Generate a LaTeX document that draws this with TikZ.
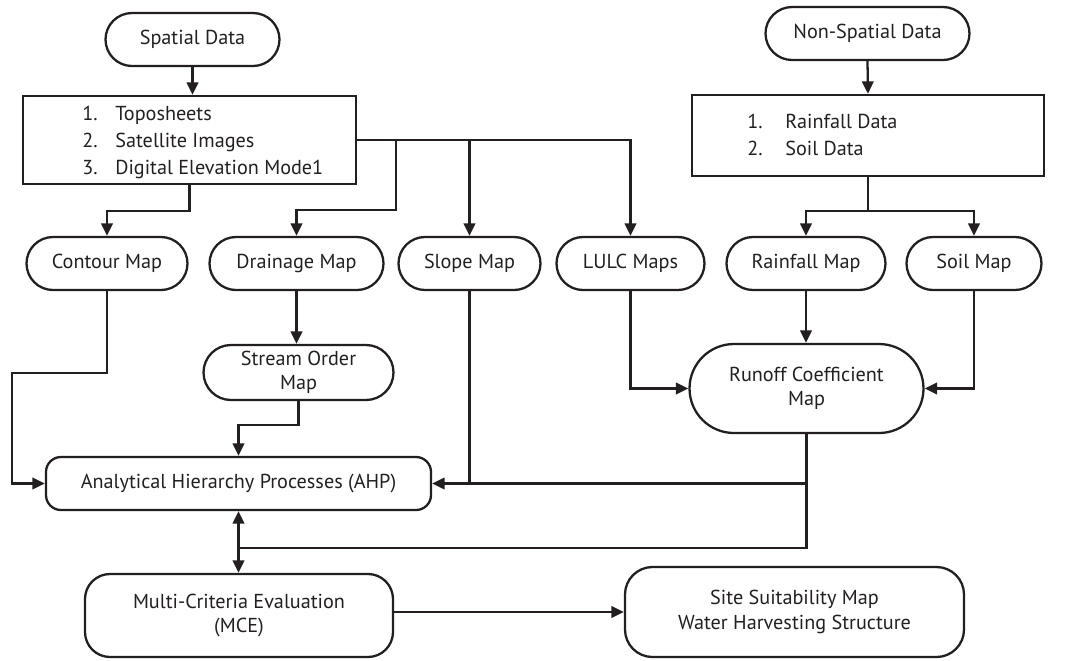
\documentclass[tikz,border=0pt]{standalone}
\usepackage{fontspec}
\setmainfont{PT Sans}
\usepackage{tikz}
\usetikzlibrary{positioning,
                shapes.misc,
                arrows.meta}
\usepackage{xcolor}
\definecolor{inkgray}{HTML}{231F20}

\begin{document}
\begin{tikzpicture}[x=0.2mm,y=-0.2mm]

%--------------------------------------------------
% STYLES
%--------------------------------------------------

\tikzset{
stadium/.style={
rounded rectangle,
draw=inkgray,
line width=1.3pt,
minimum height=1.06cm,
inner sep=2pt,
align=center,
text=inkgray,
font=\fontsize{11.5}{14}\selectfont
},
listbox/.style={
draw=inkgray,
line width=1.3pt,
inner sep=0pt
},
listtext/.style={
anchor=west,
inner sep=0pt,
text=inkgray,
font=\fontsize{11.5}{14.2}\selectfont
},
roundbox/.style={
draw=inkgray,
line width=1.3pt,
align=center,
text=inkgray,
font=\fontsize{11.5}{14}\selectfont
},
flow/.style={
draw=inkgray,
line width=1.3pt,
-{Triangle[length=2.5mm,width=2.3mm]}
},
link/.style={
draw=inkgray,
line width=1.3pt
}
}

\useasboundingbox (0,0) rectangle (1065,660);

%--------------------------------------------------
% DATA SOURCES
%--------------------------------------------------

\node[stadium,minimum width=3.62cm] (spatial)
at (192.5,39.5)
{Spatial Data};

\node[stadium,minimum width=4.22cm] (nonspatial)
at (867.5,33.5)
{Non-Spatial Data};

\node[listbox,minimum width=6.66cm,minimum height=1.76cm] (sources)
at (189.5,140)
{};

\node[listtext] (sourcestext)
at (82,142)
{\def\arraystretch{1.08}%
\begin{tabular}{@{}p{6.6mm}@{}l@{}}
1. & Toposheets\\
2. & Satellite Images\\
3. & Digital Elevation Mode1
\end{tabular}};

\node[listtext] (attributestext)
at (747,137)
{\def\arraystretch{1.08}%
\begin{tabular}{@{}p{7.6mm}@{}l@{}}
1. & Rainfall Data\\
2. & Soil Data
\end{tabular}};

\node[listbox,minimum width=7.04cm,minimum height=1.62cm] (attributes)
at (868,135.5)
{};

%--------------------------------------------------
% THEMATIC MAPS
%--------------------------------------------------

\node[stadium,minimum width=3.36cm] (contour)
at (107,263.5)
{Contour Map};

\node[stadium,minimum width=3.62cm] (drainage)
at (296.5,263.5)
{Drainage Map};

\node[stadium,minimum width=2.98cm] (slope)
at (469.5,263.5)
{Slope Map};

\node[stadium,minimum width=3.1cm] (lulc)
at (630.5,263.5)
{LULC Maps};

\node[stadium,minimum width=3.32cm] (rainfallmap)
at (806,263.5)
{Rainfall Map};

\node[stadium,minimum width=2.84cm] (soilmap)
at (974,263.5)
{Soil Map};

\node[stadium,minimum width=3.94cm,minimum height=1.1cm] (streamorder)
at (298.5,372.5)
{Stream Order\\Map};

\node[stadium,minimum width=4.82cm,minimum height=1.78cm] (runoff)
at (806.5,388.5)
{Runoff Coefficient\\Map};

%--------------------------------------------------
% ANALYSIS
%--------------------------------------------------

\node[roundbox,rounded corners=3mm,minimum width=7.7cm,minimum height=1.06cm] (ahp)
at (238.5,483.5)
{Analytical Hierarchy Processes (AHP)};

\node[roundbox,rounded corners=5mm,minimum width=6.16cm,minimum height=1.66cm] (mce)
at (239,615.5)
{Multi-Criteria Evaluation\\(MCE)};

\node[roundbox,rounded corners=5.5mm,minimum width=6.78cm,minimum height=1.8cm] (site)
at (794.5,612)
{Site Suitability Map\\Water Harvesting Structure};

%--------------------------------------------------
% CONNECTORS
%--------------------------------------------------

\coordinate (tapdrain) at (396,140);
\coordinate (join) at (239,548);

\draw[flow] (spatial.south) -- (spatial.south |- sources.north);
\draw[flow] (nonspatial.south) -- (attributes.north);

\draw[flow] (sources.south) -- ++(0,26) -| (contour.north);
\draw[flow] (sources.east) -| (lulc.north);
\draw[flow] (tapdrain) -- ++(0,70) -| (drainage.north);
\draw[flow] (sources.east -| slope.north) -- (slope.north);

\draw[flow] (attributes.south) -- ++(0,34) -| (rainfallmap.north);
\draw[flow] (attributes.south) -- ++(0,34) -| (soilmap.north);

\draw[flow] (drainage.south) -- (drainage.south |- streamorder.north);
\draw[flow] (rainfallmap.south) -- (rainfallmap.south |- runoff.north);
\draw[flow] (lulc.south) |- (runoff.west);
\draw[flow] (soilmap.south) |- (runoff.east);

\draw[flow] (contour.south) -- ++(0,82) -- ++(-95,0) |- (ahp.west);
\draw[flow] (streamorder.south) -- ++(0,24) -| (ahp.north);
\draw[link] (slope.south) -- (slope.south |- ahp.east);
\draw[flow] (runoff.south) |- (ahp.east);
\draw[link] (runoff.south) |- (join);

\draw[link,{Triangle[length=2.5mm,width=2.3mm]}-{Triangle[length=2.5mm,width=2.3mm]}]
(ahp.south) -- (ahp.south |- mce.north);

\draw[flow] (mce.east |- site.west) -- (site.west);

\end{tikzpicture}
\end{document}
